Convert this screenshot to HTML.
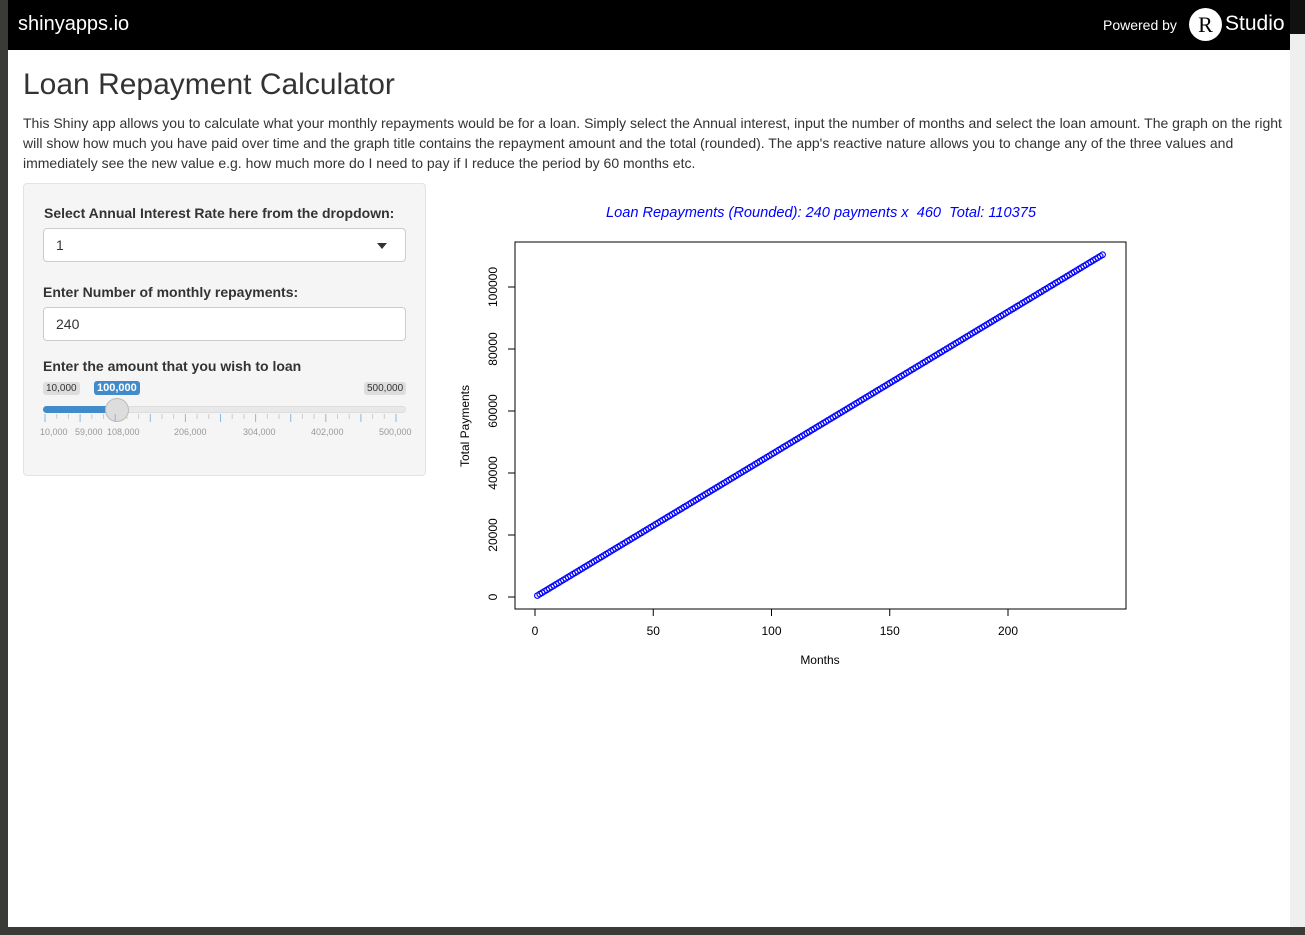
<!DOCTYPE html>
<html><head><meta charset="utf-8"><style>
body{margin:0;width:1305px;height:935px;background:#3a3a36;position:relative;overflow:hidden;font-family:"Liberation Sans",sans-serif;}
#frame{position:absolute;left:8px;top:0;width:1282px;height:927px;background:#fff;}
#hdr{position:absolute;left:0;top:0;width:1290px;height:50px;background:#000;left:8px;width:1282px;}
#sb{position:absolute;left:1290px;top:34px;width:15px;height:893px;background:#efefef;}
#sbt{position:absolute;left:1290px;top:0;width:15px;height:34px;background:#111;}
.lbl{position:absolute;font-size:14px;font-weight:bold;color:#333;}
.inp{position:absolute;border:1px solid #ccc;border-radius:4px;background:#fff;font-size:14px;color:#333;box-sizing:border-box;padding:8px 12px;}
.tag{position:absolute;font-size:10px;padding:1px 3px;border-radius:3px;background:#ddd;color:#333;}
.tk{position:absolute;font-size:9px;color:#999;}
</style></head><body>
<div id="frame"></div>
<div id="hdr">
 <div style="position:absolute;left:10px;top:13px;color:#fff;font-size:20px;">shinyapps.io</div>
 <div style="position:absolute;left:1095px;top:17px;color:#fff;font-size:14px;">Powered by</div>
 <div style="position:absolute;left:1181px;top:8px;width:33px;height:33px;border-radius:50%;background:#fff;color:#000;font:22px 'Liberation Serif',serif;text-align:center;line-height:33px;">R</div>
 <div style="position:absolute;left:1217px;top:12px;color:#fff;font-size:21px;">Studio</div>
</div>
<div id="sbt"></div><div id="sb"></div>
<div style="position:absolute;left:23px;top:68px;font-size:30px;color:#333;">Loan Repayment Calculator</div>
<div style="position:absolute;left:23px;top:113px;width:1265px;font-size:14px;line-height:20px;color:#333;">This Shiny app allows you to calculate what your monthly repayments would be for a loan. Simply select the Annual interest, input the number of months and select the loan amount. The graph on the right will show how much you have paid over time and the graph title contains the repayment amount and the total (rounded). The app's reactive nature allows you to change any of the three values and immediately see the new value e.g. how much more do I need to pay if I reduce the period by 60 months etc.</div>
<div style="position:absolute;left:23px;top:183px;width:403px;height:293px;background:#f5f5f5;border:1px solid #e3e3e3;border-radius:4px;box-sizing:border-box;"></div>
<div class="lbl" style="left:44px;top:205px;">Select Annual Interest Rate here from the dropdown:</div>
<div class="inp" style="left:43px;top:228px;width:363px;height:34px;">1<span style="position:absolute;right:18px;top:14px;border:5px solid transparent;border-top:6px solid #333;"></span></div>
<div class="lbl" style="left:43px;top:284px;">Enter Number of monthly repayments:</div>
<div class="inp" style="left:43px;top:307px;width:363px;height:34px;">240</div>
<div class="lbl" style="left:43px;top:358px;">Enter the amount that you wish to loan</div>
<div class="tag" style="left:43px;top:382px;">10,000</div>
<div class="tag" style="left:94px;top:381px;background:#428bca;color:#fff;font-weight:bold;font-size:11px;">100,000</div>
<div class="tag" style="left:364px;top:382px;">500,000</div>
<div style="position:absolute;left:43px;top:406px;width:363px;height:7px;border-radius:4px;background:#e8e8e8;border:1px solid #ddd;box-sizing:border-box;"></div>
<div style="position:absolute;left:43px;top:406px;width:75px;height:7px;border-radius:4px;background:#428bca;"></div>
<div style="position:absolute;left:105px;top:398px;width:24px;height:24px;border-radius:50%;background:#ddd;border:1px solid #bbb;box-sizing:border-box;"></div>
<svg style="position:absolute;left:0;top:0" width="1305" height="935" id="ticks"></svg>
<div class="tk" style="left:40px;top:427px">10,000</div><div class="tk" style="left:75px;top:427px">59,000</div><div class="tk" style="left:107px;top:427px">108,000</div><div class="tk" style="left:174px;top:427px">206,000</div><div class="tk" style="left:243px;top:427px">304,000</div><div class="tk" style="left:311px;top:427px">402,000</div><div class="tk" style="left:379px;top:427px">500,000</div>
<svg id="chart" style="position:absolute;left:0;top:0" width="1305" height="935" font-family="Liberation Sans, sans-serif"></svg>
<script>
var months=240;
var payment=460;
var total=110375;
var yTicks=[0,20000,40000,60000,80000,100000];
var xTicks=[0,50,100,150,200];
var NS="http://www.w3.org/2000/svg";
var t=document.getElementById('ticks');
for(var i=0;i<=30;i++){var x=45+i*11.7;var l=document.createElementNS(NS,'line');l.setAttribute('x1',x);l.setAttribute('x2',x);l.setAttribute('y1',414);l.setAttribute('y2',i%3==0?422:419);l.setAttribute('stroke',i%3==0?'#8bb8e0':'#ccc');


t.appendChild(l);}
var s=document.getElementById('chart');
function X(v){return 535+v*(1008-535)/200;}
function Y(v){return 597-v*(597-287)/100000;}
function el(n,a,txt){var e=document.createElementNS(NS,n);for(var k in a)e.setAttribute(k,a[k]);if(txt!=null)e.textContent=txt;s.appendChild(e);return e;}
var e;
e=el('text',{x:821,y:217,'text-anchor':'middle','font-size':14.6,'font-style':'italic',fill:'#0000ff'},'Loan Repayments (Rounded): '+months+' payments x\u00a0\u00a0'+payment+'\u00a0\u00a0Total: '+total);


e=el('rect',{x:515,y:242,width:611,height:367,fill:'none',stroke:'#000'});


xTicks.forEach(function(v){el('line',{x1:X(v),x2:X(v),y1:609,y2:616,stroke:'#000'});
e=el('text',{x:X(v),y:635,'text-anchor':'middle','font-size':12},v);

});
yTicks.forEach(function(v){el('line',{x1:508,x2:515,y1:Y(v),y2:Y(v),stroke:'#000'});
e=el('text',{x:0,y:0,'text-anchor':'middle','font-size':12,transform:'translate(497,'+Y(v)+') rotate(-90)'},v);

});
e=el('text',{x:820,y:664,'text-anchor':'middle','font-size':12},'Months');


e=el('text',{x:0,y:0,'text-anchor':'middle','font-size':12,transform:'translate(469,426) rotate(-90)'},'Total Payments');


for(var m=1;m<=months;m++){e=el('circle',{cx:X(m),cy:Y(m*payment),r:2.8,fill:'none',stroke:'#0000ff','stroke-width':1.1});

}
</script>
</body></html>
